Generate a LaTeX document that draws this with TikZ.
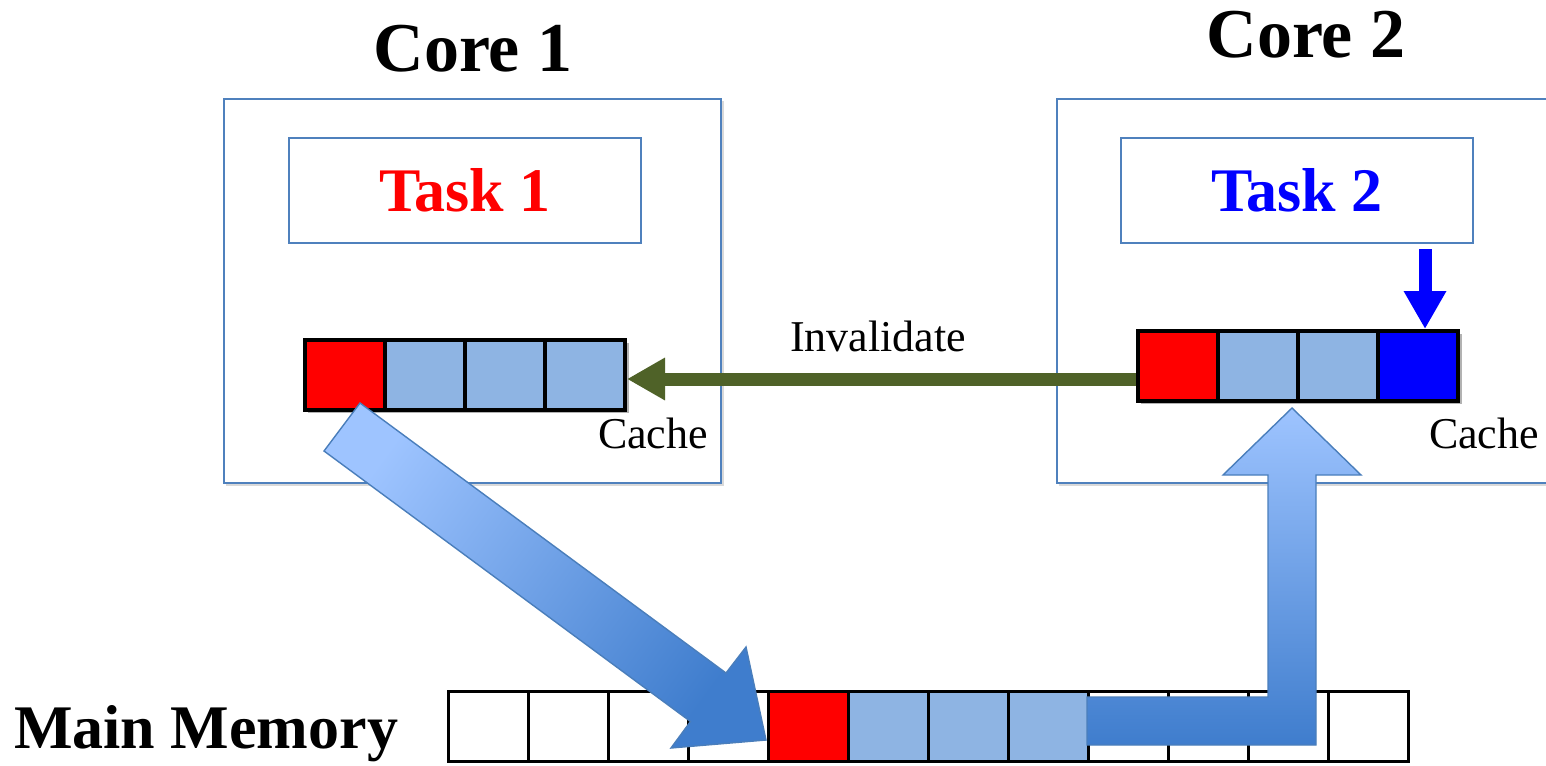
\documentclass[tikz,border=0pt]{standalone}
\usepackage{fontspec}
\newfontfamily\fa{Liberation Serif}
\usetikzlibrary{arrows.meta,calc}
\definecolor{boxblue}{HTML}{4F81BD}
\definecolor{cellblue}{HTML}{8EB4E3}
\definecolor{olivegreen}{HTML}{4F6228}
\definecolor{arrlight}{HTML}{9EC4FF}
\definecolor{arrdark}{HTML}{3F7DCD}
\definecolor{arredge}{HTML}{4A7EBB}
\definecolor{shadowgray}{HTML}{D9D9D9}
\begin{document}
\begin{tikzpicture}[x=0.5pt,y=-0.5pt,
  corebox/.style={draw=boxblue,line width=0.9pt,fill=white,inner sep=0pt,anchor=north west},
  taskbox/.style={draw=boxblue,line width=0.9pt,fill=white,inner sep=0pt,anchor=north west},
  cachecell/.style={draw=black,line width=2pt,inner sep=0pt,anchor=north west,minimum width=40pt,minimum height=35pt},
  memcell/.style={draw=black,line width=1.6pt,inner sep=0pt,anchor=north west,minimum width=40pt,minimum height=35pt},
  titletext/.style={font=\fa\fontsize{35}{40}\selectfont\bfseries,anchor=base,inner sep=0pt},
  tasktext/.style={font=\fa\fontsize{31}{36}\selectfont\bfseries,anchor=base,inner sep=0pt},
  labeltext/.style={font=\fa\fontsize{22}{26}\selectfont,anchor=base,inner sep=0pt},
  blockarrow/.style={draw=arredge,line width=0.7pt,top color=arrlight,bottom color=arrdark}
]
\useasboundingbox (0,0) rectangle (1546,765);
\clip (0,0) rectangle (1546,765);

% soft shadows
\fill[shadowgray] (226,101) rectangle (724,486);
\fill[shadowgray] (1059,101) rectangle (1560,486);
\fill[shadowgray] (291,140) rectangle (644,246);
\fill[shadowgray] (1123,140) rectangle (1476,246);

% core boxes
\node[corebox,minimum width=248.5pt,minimum height=192pt] (core1) at (223,98) {};
\node[corebox,minimum width=252pt,minimum height=192pt] (core2) at (1056,98) {};

% task boxes
\node[taskbox,minimum width=176pt,minimum height=52.5pt] (task1) at (288,137) {};
\node[taskbox,minimum width=176pt,minimum height=52.5pt] (task2) at (1120,137) {};

% titles
\node[titletext] (t1) at (473,72) {Core 1};
\node[titletext] (t2) at (1306,58) {Core 2};
\node[tasktext,text=red] (tk1) at (task1.center |- 0,211) {Task 1};
\node[tasktext,text=blue] (tk2) at (task2.center |- 0,211) {Task 2};

% cache shadows
\fill[gray!60] (308,343) rectangle (629,413);
\fill[gray!60] (1141,334) rectangle (1462,404);

% cache 1
\foreach \i/\c in {1/red,2/cellblue,3/cellblue,4/cellblue}
  \node[cachecell,fill=\c] (ca\i) at ({303+80*(\i-1)},338) {};
% cache 2
\foreach \i/\c in {1/red,2/cellblue,3/cellblue,4/blue}
  \node[cachecell,fill=\c] (cb\i) at ({1136+80*(\i-1)},329) {};

\node[labeltext] (cachelab1) at (653,448) {Cache};
\node[labeltext] (cachelab2) at (1484,448) {Cache};

% main memory
\foreach \i/\c in {1/white,2/white,3/white,4/white,5/red,6/cellblue,7/cellblue,8/cellblue,9/white,10/white,11/white,12/white}
  \node[memcell,fill=\c] (m\i) at ({447+80*(\i-1)},690) {};
\node[font=\fa\fontsize{31}{35}\selectfont\bfseries,anchor=base,inner sep=0pt] (mainmem) at (206,748) {Main Memory};

% invalidate arrow
\coordinate (istart) at ($(cb1.west)+(0,13)$);
\coordinate (iend) at (ca4.east |- istart);
\draw[olivegreen,line width=6.5pt,-{Triangle[length=19pt,width=20pt]}] (istart) -- (iend);
\node[labeltext] (inv) at (878,351) {Invalidate};

% write arrow
\coordinate (wstart) at (1425,249);
\coordinate (wend) at (1425,329);
\draw[blue,line width=6.5pt,-{Triangle[length=19pt,width=20pt]}] (wstart) -- (wend);

% diagonal block arrow (write back)
\path[blockarrow,shading angle=54]
  (324,451) -- (360,403) -- (726,673) -- (746,647) -- (766,740) -- (671,748) -- (690.5,721.5) -- cycle;

% L-shaped block arrow (fetch)
\path[blockarrow]
  (1087,697) -- (1268,697) -- (1268,475) -- (1223,475) -- (1292,408) -- (1361,475) -- (1316,475) -- (1316,745) -- (1087,745) -- cycle;
\end{tikzpicture}
\end{document}
